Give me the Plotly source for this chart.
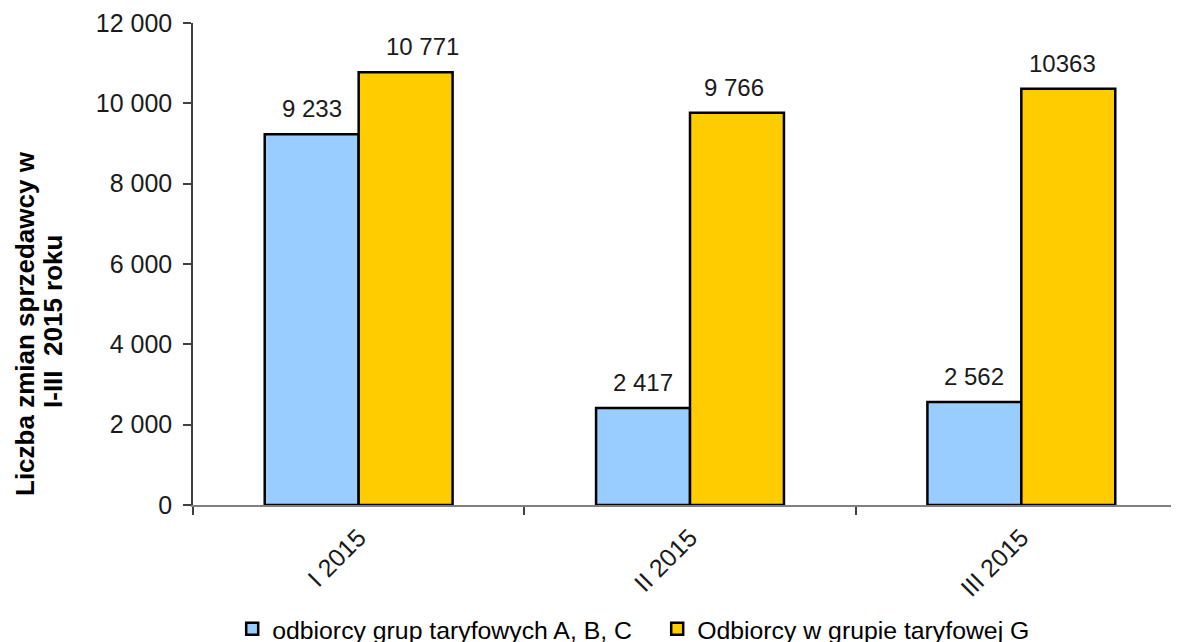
import plotly.graph_objects as go

categories = ["I 2015", "II 2015", "III 2015"]
series_abc_name = "odbiorcy grup taryfowych A, B, C"
series_g_name = "Odbiorcy w grupie taryfowej G"
values_abc = [9233, 2417, 2562]
values_g = [10771, 9766, 10363]
labels_abc = ["9 233", "2 417", "2 562"]
labels_g = ["10 771", "9 766", "10363"]
y_tickvals = [0, 2000, 4000, 6000, 8000, 10000, 12000]
y_ticktext = ["0", "2 000", "4 000", "6 000", "8 000", "10 000", "12 000"]

FONT = "Liberation Sans, Arial, sans-serif"
W, H = 1179, 642
# page body has an 8px offset; margins compensate for it
L, R, T, B = 185, 0, 15, 145
PW, PH = W - L - R, H - T - B
label_dx_g = [17, -3, -6]  # style: label nudges as in the original

fig = go.Figure()
fig.add_trace(go.Bar(x=categories, y=values_abc, name=series_abc_name,
                     marker=dict(color="#99CCFF", line=dict(color="#000000", width=2.5))))
fig.add_trace(go.Bar(x=categories, y=values_g, name=series_g_name,
                     marker=dict(color="#FFCC00", line=dict(color="#000000", width=2.5))))

for i, c in enumerate(categories):
    fig.add_annotation(x=c, y=values_abc[i], text=labels_abc[i], showarrow=False,
                       xshift=-47, yshift=10, yanchor="bottom",
                       font=dict(family=FONT, size=24, color="#1a1a1a"))
    fig.add_annotation(x=c, y=values_g[i], text=labels_g[i], showarrow=False,
                       xshift=47 + label_dx_g[i], yshift=10, yanchor="bottom",
                       font=dict(family=FONT, size=24, color="#1a1a1a"))

# y-axis title as two tight lines
fig.add_annotation(xref="paper", yref="paper", x=(17 - L) / PW, y=(T + PH - 316) / PH,
                   text="Liczba zmian sprzedawcy w", textangle=-90, showarrow=False,
                   xanchor="center", yanchor="middle",
                   font=dict(family=FONT, size=26, color="#000000", weight="bold"))
fig.add_annotation(xref="paper", yref="paper", x=(45 - L) / PW, y=(T + PH - 314) / PH,
                   text="I-III  2015 roku", textangle=-90, showarrow=False,
                   xanchor="center", yanchor="middle",
                   font=dict(family=FONT, size=26, color="#000000", weight="bold"))

fig.update_layout(
    width=W, height=H,
    margin=dict(l=L, r=R, t=T, b=B, pad=0, autoexpand=False),
    paper_bgcolor="white", plot_bgcolor="white",
    barmode="group", bargap=0.433, bargroupgap=0,
    font=dict(family=FONT, size=24, color="#1a1a1a"),
    showlegend=True,
    legend=dict(orientation="h", x=0.467, xanchor="center", y=-0.2577, yanchor="middle",
                font=dict(family=FONT, size=24.8, color="#000000"),
                entrywidth=380, entrywidthmode="pixels",
                itemwidth=30, tracegroupgap=0, bgcolor="rgba(0,0,0,0)"),
)
fig.update_xaxes(range=[-0.5, 2.5], showline=True, linecolor="#808080", linewidth=2,
                 ticks="outside", tickson="boundaries", ticklen=8, tickwidth=1.5,
                 tickcolor="#404040", tickangle=-45, showgrid=False, zeroline=False,
                 automargin=False, ticklabelstandoff=6, ticklabeloverflow="allow",
                 tickfont=dict(family=FONT, size=25, color="#1a1a1a"))
fig.update_yaxes(range=[0, 12000], tickvals=y_tickvals, ticktext=y_ticktext,
                 showline=True, linecolor="#404040", linewidth=1.5,
                 ticks="outside", ticklen=8, tickwidth=1.5, tickcolor="#404040",
                 showgrid=False, zeroline=False, automargin=False, ticklabelstandoff=6,
                 ticklabeloverflow="allow",
                 tickfont=dict(family=FONT, size=25, color="#1a1a1a"))

fig.write_html("out.html")
